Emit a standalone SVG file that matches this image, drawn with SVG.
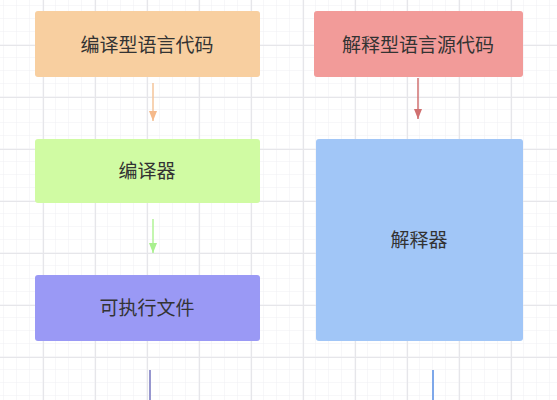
<svg xmlns="http://www.w3.org/2000/svg" width="557" height="400" viewBox="0 0 557 400">
<defs>
<pattern id="minor" width="13" height="13" patternUnits="userSpaceOnUse" x="4" y="6">
<path d="M13 0V13M0 13H13" fill="none" stroke="#efeff3" stroke-width="1"/>
</pattern>
<pattern id="major" width="52" height="52" patternUnits="userSpaceOnUse" x="43" y="45">
<path d="M0.5 0V52M0 0.5H52" fill="none" stroke="#e6e6ea" stroke-width="1.2"/>
</pattern>
<marker id="aOr" markerWidth="10" markerHeight="8" refX="10" refY="4" orient="auto" markerUnits="userSpaceOnUse" viewBox="0 0 10 8"><path d="M0 0L10 4L0 8Z" fill="#f5b98a"/></marker>
<marker id="aGr" markerWidth="10" markerHeight="8" refX="10" refY="4" orient="auto" markerUnits="userSpaceOnUse" viewBox="0 0 10 8"><path d="M0 0L10 4L0 8Z" fill="#a8f08e"/></marker>
<marker id="aRd" markerWidth="10" markerHeight="8" refX="10" refY="4" orient="auto" markerUnits="userSpaceOnUse" viewBox="0 0 10 8"><path d="M0 0L10 4L0 8Z" fill="#d07070"/></marker>
</defs>
<style>
text{font-family:"Noto Sans CJK SC","Noto Sans",sans-serif;font-size:19px;fill:#333;text-anchor:middle;dominant-baseline:central}
rect.n{rx:3;ry:3}
</style>
<rect width="557" height="400" fill="#fff"/>
<rect width="557" height="400" fill="url(#minor)"/>
<rect width="557" height="400" fill="url(#major)"/>
<g id="connectors">
<line x1="153" y1="83" x2="153" y2="121" stroke="#f5c49a" stroke-width="1.5" marker-end="url(#aOr)"/>
<line x1="153" y1="219" x2="153" y2="253" stroke="#b0f396" stroke-width="1.5" marker-end="url(#aGr)"/>
<line x1="418" y1="78" x2="418" y2="119" stroke="#d07070" stroke-width="1.5" marker-end="url(#aRd)"/>
<line x1="150" y1="370" x2="150" y2="400" stroke="#9797cf" stroke-width="2"/>
<line x1="433" y1="370" x2="433" y2="400" stroke="#7ea8ea" stroke-width="2"/>
</g>
<g id="n-compiled-src"><rect class="n" x="35" y="11" width="225" height="66" fill="#f8cfa0"/><text x="147" y="43">编译型语言代码</text></g>
<g id="n-compiler"><rect class="n" x="35" y="139" width="225" height="64" fill="#d0fba3"/><text x="147" y="169">编译器</text></g>
<g id="n-exe"><rect class="n" x="35" y="275" width="225" height="66" fill="#9a99f5"/><text x="147" y="306">可执行文件</text></g>
<g id="n-interp-src"><rect class="n" x="314" y="11" width="209" height="66" fill="#f29b99"/><text x="418" y="43">解释型语言源代码</text></g>
<g id="n-interpreter"><rect class="n" x="316" y="139" width="207" height="202" fill="#a1c6f7"/><text x="419" y="238">解释器</text></g>
</svg>
